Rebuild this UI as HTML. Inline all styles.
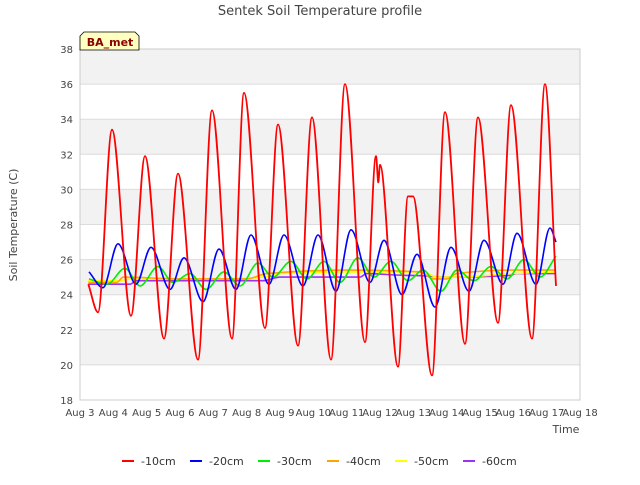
<!DOCTYPE html>
<html><head><meta charset="utf-8"><style>
body{margin:0;background:#fff;font-family:"Liberation Sans","DejaVu Sans",sans-serif}
svg text{font-family:"DejaVu Sans","Liberation Sans",sans-serif}
</style></head><body>
<svg id="chart" width="640" height="480" viewBox="0 0 640 480">
<text x="320" y="15" text-anchor="middle" font-size="13" fill="#444">Sentek Soil Temperature profile</text>
<g id="bands"></g><g id="grid"></g>
<rect x="80" y="49" width="500" height="351" fill="none" stroke="#ccc"/>
<g id="ticks"></g><g id="series"></g>
<text transform="translate(17,225) rotate(-90)" text-anchor="middle" font-size="11" fill="#444">Soil Temperature (C)</text>
<text x="566" y="433" text-anchor="middle" font-size="11" fill="#444">Time</text>
<g><path d="M80,50 L80,36 L84,32 L135,32 L139,36 L139,50 Z" fill="#ffffc0" stroke="#000" stroke-width="0.8"/>
<text x="110" y="46" text-anchor="middle" font-size="11" font-weight="bold" fill="#8b0000">BA_met</text></g>
<g id="legend"></g>
</svg>
<script>
const yTicks=[18,20,22,24,26,28,30,32,34,36,38];
const xTickLabels=["Aug 3","Aug 4","Aug 5","Aug 6","Aug 7","Aug 8","Aug 9","Aug 10","Aug 11","Aug 12","Aug 13","Aug 14","Aug 15","Aug 16","Aug 17","Aug 18"];
const seriesNames=["-10cm","-20cm","-30cm","-40cm","-50cm","-60cm"];
const seriesColors=["#ff0000","#0000ff","#00ee00","#ffa500","#ffff00","#9b30ff"];
const t10=[0.25,0.54,0.96,1.53,1.95,2.52,2.94,3.54,3.96,4.56,4.92,5.55,5.94,6.54,6.96,7.53,7.95,8.55,8.88,8.95,9.0,9.54,9.84,9.99,10.56,10.95,11.55,11.94,12.54,12.93,13.56,13.95,14.28];
const v10=[24.6,23.0,33.4,22.8,31.9,21.5,30.9,20.3,34.5,21.5,35.5,22.1,33.7,21.1,34.1,20.3,36.0,21.3,31.9,30.4,31.4,19.9,29.6,29.6,19.4,34.4,21.2,34.1,22.4,34.8,21.5,36.0,24.5];
const t20=[0.27,0.69,1.14,1.68,2.13,2.7,3.12,3.69,4.17,4.68,5.13,5.67,6.12,6.69,7.14,7.68,8.13,8.7,9.12,9.66,10.11,10.65,11.13,11.67,12.12,12.69,13.11,13.68,14.1,14.28];
const v20=[25.3,24.4,26.9,24.6,26.7,24.3,26.1,23.6,26.6,24.3,27.4,24.6,27.4,24.5,27.4,24.2,27.7,24.7,27.1,24.0,26.3,23.3,26.7,24.2,27.1,24.6,27.5,24.6,27.8,27.0];
const t30=[0.27,0.81,1.35,1.8,2.34,2.79,3.3,3.78,4.32,4.8,5.34,5.79,6.33,6.81,7.32,7.8,8.34,8.82,9.33,9.84,10.29,10.83,11.31,11.82,12.33,12.81,13.32,13.8,14.28];
const v30=[24.9,24.6,25.5,24.5,25.6,24.7,25.2,24.3,25.3,24.5,25.8,25.0,25.9,24.9,25.9,24.7,26.1,25.0,25.9,24.8,25.4,24.2,25.4,24.8,25.6,24.9,26.0,25.0,26.2];
const t40=[0.25,1.1,1.3,3.0,5.0,5.6,8.0,10.2,10.6,11.0,11.3,13.0,14.28];
const v40=[24.7,24.7,25.0,24.9,24.9,25.2,25.4,25.3,24.9,24.9,25.2,25.4,25.4];
const t50=[0.25,1.2,1.5,4.5,5.5,6.0,8.0,10.3,10.7,11.2,13.0,14.28];
const v50=[24.8,24.8,24.9,24.9,25.0,25.2,25.3,25.3,25.0,25.0,25.2,25.3];
const t60=[0.25,1.5,1.7,5.5,6.0,8.4,8.6,9.8,10.0,11.0,12.9,13.1,14.28];
const v60=[24.6,24.6,24.8,24.8,25.0,25.0,25.2,25.1,25.1,25.0,25.1,25.2,25.2];
const seriesT=[t10,t20,t30,t40,t50,t60], seriesV=[v10,v20,v30,v40,v50,v60];
const NS="http://www.w3.org/2000/svg";
const X0=80,X1=580,Y0=400,Y1=49;
function xs(d){return X0+d*(X1-X0)/15;}
function ys(v){return Y0-(v-18)*(Y0-Y1)/20;}
function mk(tag,attrs,parent){const e=document.createElementNS(NS,tag);for(const k in attrs)e.setAttribute(k,attrs[k]);parent.appendChild(e);return e;}
function monoPath(px,py){
  const n=px.length,d=[],m=[];
  for(let i=0;i<n-1;i++)d.push((py[i+1]-py[i])/(px[i+1]-px[i]));
  for(let i=0;i<n;i++){
    if(i===0)m.push(d[0]);else if(i===n-1)m.push(d[n-2]);
    else if(d[i-1]*d[i]<=0)m.push(0);
    else{const h0=px[i]-px[i-1],h1=px[i+1]-px[i];m.push(3*(h0+h1)/((2*h1+h0)/d[i-1]+(h1+2*h0)/d[i]));}
  }
  let s='M'+px[0].toFixed(1)+','+py[0].toFixed(1);
  for(let i=0;i<n-1;i++){const h=(px[i+1]-px[i])/3;
    s+=' C'+(px[i]+h).toFixed(1)+','+(py[i]+m[i]*h).toFixed(1)+' '+(px[i+1]-h).toFixed(1)+','+(py[i+1]-m[i+1]*h).toFixed(1)+' '+px[i+1].toFixed(1)+','+py[i+1].toFixed(1);}
  return s;
}
const bands=document.getElementById('bands'),grid=document.getElementById('grid'),ticks=document.getElementById('ticks'),ser=document.getElementById('series'),leg=document.getElementById('legend');
for(let i=0;i<yTicks.length-1;i++){
  if(i%2===1){const r=mk('rect',{x:X0,y:ys(yTicks[i+1]),width:X1-X0,height:ys(yTicks[i])-ys(yTicks[i+1]),fill:'#f2f2f2'},bands);
  
  }
}
yTicks.forEach(v=>{
  const l=mk('line',{x1:X0,x2:X1,y1:ys(v),y2:ys(v),stroke:'#dcdcdc'},grid);
  
  
  const t=mk('text',{x:X0-7,y:ys(v)+4,'text-anchor':'end','font-size':10,fill:'#444'},ticks);t.textContent=v;
  
  
});
xTickLabels.forEach((s,i)=>{
  const t=mk('text',{x:xs(i),y:Y0+16,'text-anchor':'middle','font-size':10,fill:'#444'},ticks);t.textContent=s;
  
  
});
for(let s=seriesNames.length-1;s>=0;s--){
  const px=seriesT[s].map(xs),py=seriesV[s].map(ys);
  const p=mk('path',{d:monoPath(px,py),fill:'none',stroke:seriesColors[s],'stroke-width':s===0?1.8:1.6,'stroke-linejoin':'round'},ser);
  
  
}
const lx=[122,190,258,327,395,463];
seriesNames.forEach((n,i)=>{
  const g=mk('g',{},leg);
  
  
  mk('line',{x1:lx[i],x2:lx[i]+12,y1:461,y2:461,stroke:seriesColors[i],'stroke-width':2},g);
  const t=mk('text',{x:lx[i]+19,y:465,'font-size':11,fill:'#333'},g);t.textContent=n;
});
</script>
</body></html>
